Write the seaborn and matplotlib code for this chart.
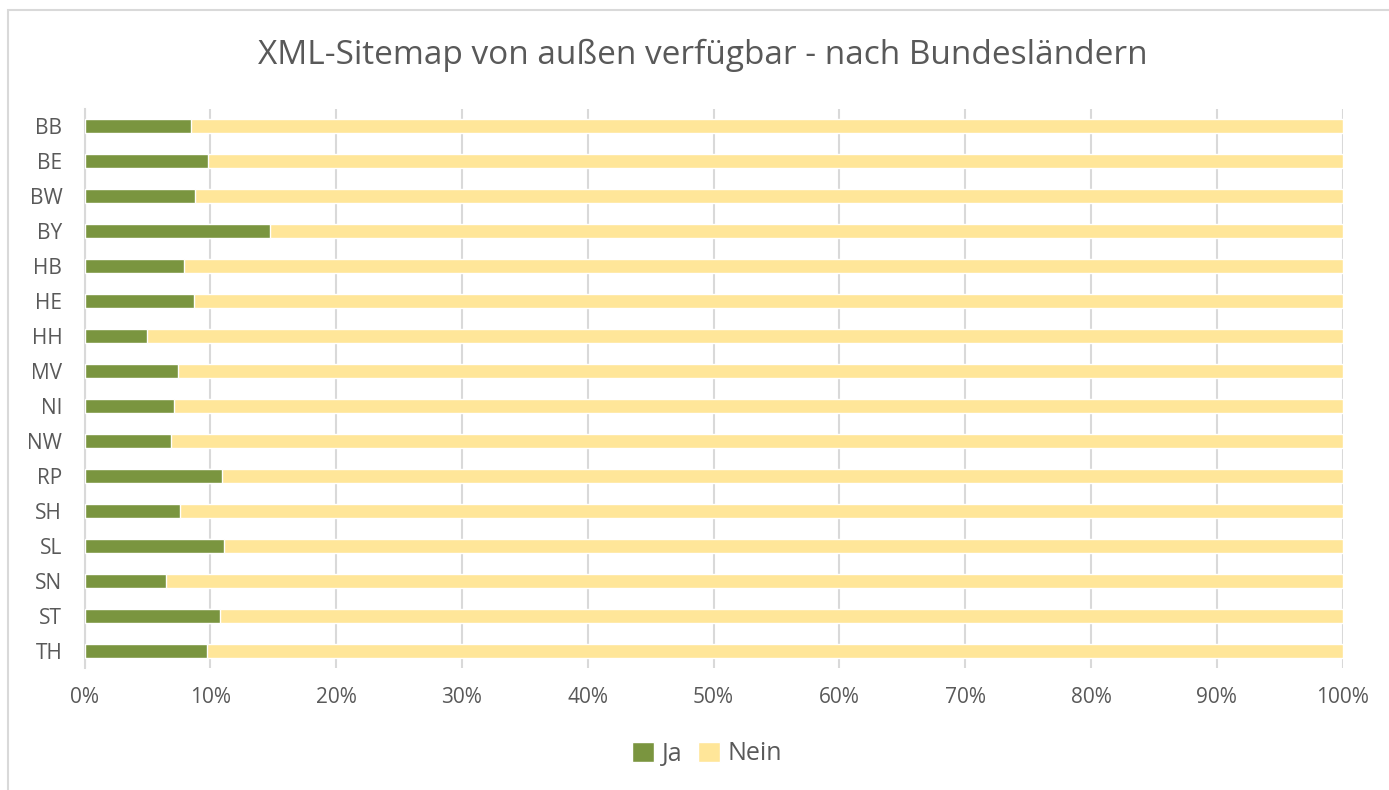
"""Stacked 100% bar chart: XML-Sitemap availability by German state."""

import matplotlib.pyplot as plt
import pandas as pd
import seaborn as sns
from matplotlib.patches import Patch, Rectangle
from matplotlib.ticker import FuncFormatter

sns.set_theme(style="white")
plt.rcParams["font.family"] = ["Open Sans", "DejaVu Sans"]

STATES = ["BB", "BE", "BW", "BY", "HB", "HE", "HH", "MV",
          "NI", "NW", "RP", "SH", "SL", "SN", "ST", "TH"]
JA = [8.5, 9.8, 8.8, 14.75, 7.9, 8.7, 4.95, 7.4,
      7.1, 6.85, 10.9, 7.6, 11.1, 6.5, 10.8, 9.7]
NEIN = [100 - v for v in JA]

GREEN = "#7A953F"
YELLOW = "#FFE699"
TEXT = "#595959"
GRID = "#D9D9D9"

df = pd.DataFrame({"state": STATES, "ja": JA, "nein": NEIN})
df["total"] = df["ja"] + df["nein"]

fig = plt.figure(figsize=(13.89, 7.90), dpi=100)
ax = fig.add_axes([84.5 / 1389, 1 - 668 / 790, (1342.7 - 84.5) / 1389, (668 - 108.7) / 790])

# outer chart border (cropped on the right/bottom in the original)
fig.patches.append(Rectangle((8 / 1389, -0.1), 1.2, 1 - 10 / 790 + 0.1,
                             transform=fig.transFigure, fill=False,
                             edgecolor=GRID, linewidth=1.5, zorder=0))

sns.barplot(data=df, x="total", y="state", orient="h", color=YELLOW,
            width=0.4, saturation=1, ax=ax, zorder=2)
sns.barplot(data=df, x="ja", y="state", orient="h", color=GREEN,
            width=0.4, saturation=1, ax=ax, zorder=3)

ax.set_xlim(0, 100)
ax.set_ylim(len(STATES) - 0.5, -0.5)
ax.set_xticks(range(0, 101, 10))
ax.xaxis.set_major_formatter(FuncFormatter(lambda v, _: f"{v:.0f}%"))
ax.grid(axis="x", color=GRID, linewidth=1.5, zorder=0)
ax.set_axisbelow(True)
for side in ["top", "right", "bottom"]:
    ax.spines[side].set_visible(False)
ax.spines["left"].set_color(GRID)
ax.spines["left"].set_linewidth(1.5)
ax.set_xlabel("")
ax.set_ylabel("")
ax.tick_params(axis="x", length=0, pad=14, labelsize=15, labelcolor=TEXT)
ax.tick_params(axis="y", length=0, pad=16, labelsize=15, labelcolor=TEXT)

fig.text(703 / 1389, 1 - 55 / 790, "XML-Sitemap von außen verfügbar - nach Bundesländern",
         ha="center", va="center", fontsize=24, color=TEXT)

handles = [Patch(facecolor=GREEN, label="Ja"), Patch(facecolor=YELLOW, label="Nein")]
fig.legend(handles=handles, loc="center", bbox_to_anchor=(707 / 1389, 1 - 754 / 790),
           ncol=2, frameon=False, fontsize=18, labelcolor=TEXT,
           handlelength=0.9, handleheight=0.9, handletextpad=0.3, columnspacing=0.6)

fig.savefig("out.png", dpi=100)
